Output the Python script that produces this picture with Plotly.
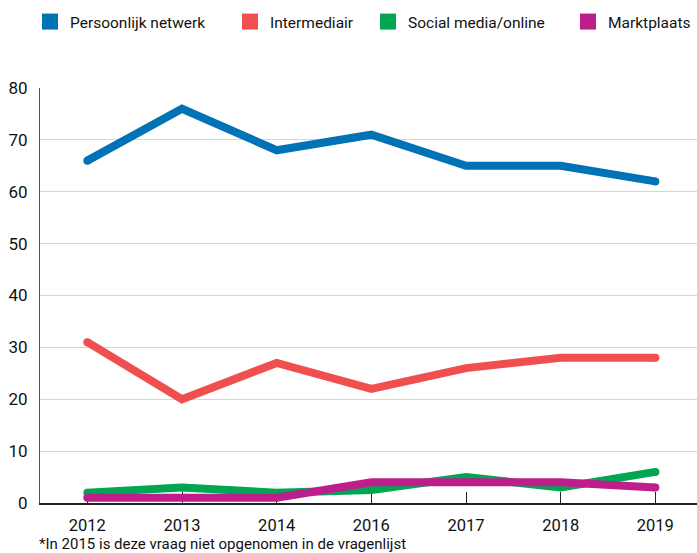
import plotly.graph_objects as go

# Survey years (2015 not asked)
years = ["2012", "2013", "2014", "2016", "2017", "2018", "2019"]

# Share of respondents per channel (%)
persoonlijk_netwerk = [66, 76, 68, 71, 65, 65, 62]
intermediair = [31, 20, 27, 22, 26, 28, 28]
social_media_online = [2, 3, 2, 2.5, 5, 3, 6]
marktplaats = [1, 1, 1, 4, 4, 4, 3]

series_names = ["Persoonlijk netwerk", "Intermediair", "Social media/online", "Marktplaats"]
series_values = [persoonlijk_netwerk, intermediair, social_media_online, marktplaats]
colors = ["#0072B5", "#F04F50", "#00A651", "#BE1E8C"]

y_ticks = [0, 10, 20, 30, 40, 50, 60, 70, 80]
footnote = "*In 2015 is deze vraag niet opgenomen in de vragenlijst"

FONT = "Roboto"
W, H = 697, 553

fig = go.Figure()

n = len(years)
cap_sizes = [8] + [0] * (n - 2) + [8]  # round ends of each line

for name, vals, col in zip(series_names, series_values, colors):
    fig.add_trace(go.Scatter(
        x=years, y=vals, mode="lines+markers", name=name,
        line=dict(color=col, width=8),
        marker=dict(color=col, size=cap_sizes, opacity=1, line=dict(width=0)),
        showlegend=False, hoverinfo="skip",
    ))

# One legend box per series so each swatch sits at its own spot in the header
legend_ids = ["legend", "legend2", "legend3", "legend4"]
legend_left = [30, 230, 368, 568]

for name, col, lid in zip(series_names, colors, legend_ids):
    fig.add_trace(go.Scatter(
        x=[None], y=[None], mode="markers", name=name, legend=lid,
        marker=dict(color=col, size=16, symbol="square", line=dict(width=0)),
        showlegend=True,
    ))

legend_layout = {}
for lid, left in zip(legend_ids, legend_left):
    legend_layout[lid] = dict(
        orientation="h", x=left / W, xanchor="left", xref="container",
        y=1 - 22 / H, yanchor="middle", yref="container",
        font=dict(family=FONT, size=15.5, color="#111111"),
        itemsizing="trace", itemwidth=30, borderwidth=0,
        bgcolor="rgba(0,0,0,0)",
    )

fig.update_layout(
    width=W, height=H,
    margin=dict(l=40, r=0, t=88, b=50),
    plot_bgcolor="white", paper_bgcolor="white",
    font=dict(family=FONT, size=16, color="#111111"),
    annotations=[dict(
        text=footnote, xref="paper", yref="paper",
        x=-3 / 657, y=-41 / 415, xanchor="left", yanchor="middle",
        showarrow=False, font=dict(family=FONT, size=15, color="#111111"),
    )],
    **legend_layout,
)

fig.update_xaxes(
    type="category", range=[-0.5, 6.44],
    showgrid=False, showline=True, linecolor="#222222", linewidth=2,
    ticks="inside", ticklen=11, tickcolor="#222222", tickwidth=1,
    tickfont=dict(size=16.5), ticklabelstandoff=6, layer="below traces",
)
fig.update_yaxes(
    range=[0, 80], tickvals=y_ticks,
    showgrid=True, gridcolor="#d6d6d6", gridwidth=1,
    showline=True, linecolor="#555555", linewidth=1,
    zeroline=False, ticks="", tickfont=dict(size=17), ticklabelstandoff=8,
)

fig.write_html("out.html")
